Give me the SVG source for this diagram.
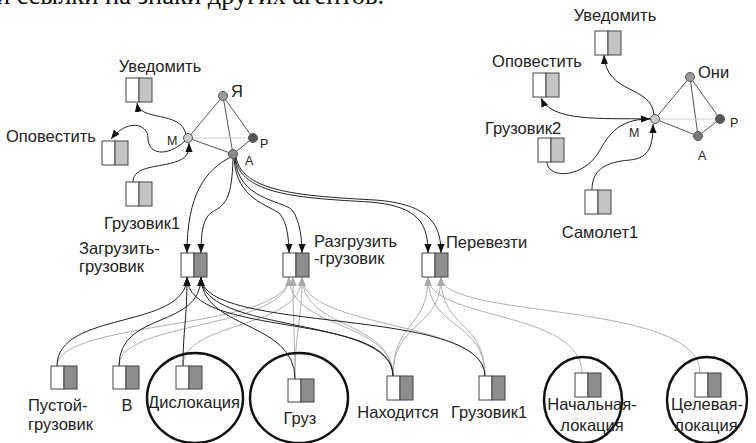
<svg xmlns="http://www.w3.org/2000/svg" width="756" height="443" viewBox="0 0 756 443">
<defs>
<marker id="ab" markerUnits="userSpaceOnUse" markerWidth="9" markerHeight="8" viewBox="0 0 10 8" refX="10" refY="4" orient="auto"><path d="M0,0 L10,4 L0,8 z" fill="#111"/></marker>
<marker id="ag" markerUnits="userSpaceOnUse" markerWidth="9" markerHeight="8" viewBox="0 0 10 8" refX="10" refY="4" orient="auto"><path d="M0,0 L10,4 L0,8 z" fill="#a8a8a8"/></marker>
</defs>
<style>
text{font-family:"Liberation Sans",Arial,sans-serif;fill:#222}
.lbl{font-size:16.5px}
.sm{font-size:12.5px}
.cap{font-family:"Liberation Serif","Times New Roman",serif;font-size:26.5px;fill:#111}
.w{fill:#fff;stroke:#444;stroke-width:1}
.g1{fill:#c4c4c4;stroke:#444;stroke-width:1}
.g2{fill:#8e8e8e;stroke:#444;stroke-width:1}
.e{fill:#555;stroke:#555;stroke-width:1}
.el{stroke:#cfcfcf;stroke-width:1}
.k{fill:none;stroke:#222;stroke-width:1;marker-end:url(#ab)}
.gr{fill:none;stroke:#b0b0b0;stroke-width:1;marker-end:url(#ag)}
.ring{fill:none;stroke:#111;stroke-width:2.5}
.nd{stroke:#555;stroke-width:1}
</style>
<rect width="756" height="443" fill="#fff"/>
<text class="cap" x="-4" y="4">и ссылки на знаки других агентов.</text>

<g id="connectors">
<line class="e" x1="188" y1="138" x2="223" y2="96"/>
<line class="e" x1="223" y1="96" x2="233" y2="154"/>
<line class="e" x1="223" y1="96" x2="253" y2="138"/>
<line class="e" x1="188" y1="138" x2="233" y2="154"/>
<line class="e" x1="233" y1="154" x2="253" y2="138"/>
<line class="el" x1="188" y1="138" x2="253" y2="138"/>
<path class="k" d="M186,134 C180,110 140,122 137,103"/>
<path class="k" d="M185,141 C166,158 148,154 148,138 C148,124 128,118 111,139"/>
<path class="k" d="M133,182 C133,165 160,168 178,161 C188,157 189,152 189,143"/>
<path class="k" d="M231,157 C205,170 187,195 187,253"/>
<path class="k" d="M233,158 C232,200 225,205 212,212 C203,218 201,232 201,253"/>
<path class="k" d="M234,158 C236,200 270,205 280,214 C287,222 289,240 289,253"/>
<path class="k" d="M235,158 C238,200 282,200 292,210 C300,220 302,240 302,253"/>
<path class="k" d="M235,157 C240,195 300,198 370,202 C420,206 428,225 428,253"/>
<path class="k" d="M236,157 C242,193 305,196 375,200 C430,204 441,225 441,253"/>
<line class="e" x1="655" y1="119" x2="690" y2="77"/>
<line class="e" x1="690" y1="77" x2="698" y2="136"/>
<line class="e" x1="690" y1="77" x2="720" y2="119"/>
<line class="e" x1="655" y1="119" x2="698" y2="136"/>
<line class="e" x1="698" y1="136" x2="720" y2="119"/>
<line class="el" x1="655" y1="119" x2="720" y2="119"/>
<path class="k" d="M654,115 C652,85 606,95 604,55"/>
<path class="k" d="M650,119 C600,118 552,122 541,98"/>
<path class="k" d="M547,162 C548,180 585,178 600,150 C612,128 625,119 650,119"/>
<path class="k" d="M592,190 C592,170 605,162 630,160 C650,158 653,145 653,124"/>
<path class="gr" d="M57,366 C57,320 289,330 289,277"/>
<path class="gr" d="M119,366 C119,320 289,330 289,277"/>
<path class="gr" d="M183,366 C183,320 302,330 302,277"/>
<path class="gr" d="M295,379 C295,340 293,320 293,277"/>
<path class="gr" d="M295,379 C295,330 302,320 302,277"/>
<path class="gr" d="M393,376 C393,320 289,330 289,277"/>
<path class="gr" d="M393,376 C393,320 302,330 302,277"/>
<path class="gr" d="M393,376 C393,320 428,330 428,277"/>
<path class="gr" d="M393,376 C393,320 441,330 441,277"/>
<path class="gr" d="M485,376 C485,320 302,330 302,277"/>
<path class="gr" d="M485,376 C485,320 428,330 428,277"/>
<path class="gr" d="M485,376 C485,320 441,330 441,277"/>
<path class="gr" d="M582,373 C582,310 428,320 428,277"/>
<path class="gr" d="M700,373 C700,300 441,320 441,277"/>
<path class="k" d="M57,366 C57,310 187,330 187,277"/>
<path class="k" d="M119,366 C119,310 201,330 201,277"/>
<path class="k" d="M183,366 C183,330 187,320 187,277"/>
<path class="k" d="M295,379 C295,320 201,330 201,277"/>
<path class="k" d="M393,376 C393,310 187,340 187,277"/>
<path class="k" d="M393,376 C393,315 201,335 201,277"/>
<path class="k" d="M485,376 C485,305 201,335 201,277"/>
</g>

<g id="node-ya"><circle class="nd" cx="223" cy="96" r="4.5" fill="#9a9a9a"/><text class="lbl" x="231" y="97">Я</text></g>
<g id="node-m"><circle class="nd" cx="188" cy="138" r="4.5" fill="#cacaca"/><text class="sm" x="167" y="145">M</text></g>
<g id="node-p"><circle class="nd" cx="253" cy="138" r="4.5" fill="#555"/><text class="sm" x="260" y="148">P</text></g>
<g id="node-a"><circle class="nd" cx="233" cy="154" r="4.5" fill="#8a8a8a"/><text class="sm" x="245" y="165">A</text></g>

<g id="left-uvedomit"><rect class="w" x="126" y="78" width="13" height="24"/><rect class="g1" x="139" y="78" width="13" height="24"/><text class="lbl" x="160" y="72" text-anchor="middle">Уведомить</text></g>
<g id="left-opovestit"><rect class="w" x="102" y="141" width="13" height="24"/><rect class="g1" x="115" y="141" width="13" height="24"/><text class="lbl" x="6" y="142">Оповестить</text></g>
<g id="left-gruzovik1"><rect class="w" x="126" y="182" width="13" height="24"/><rect class="g1" x="139" y="182" width="13" height="24"/><text class="lbl" x="142" y="229" text-anchor="middle">Грузовик1</text></g>

<g id="node-oni"><circle class="nd" cx="690" cy="77" r="4.5" fill="#9a9a9a"/><text class="lbl" x="698" y="78">Они</text></g>
<g id="node-m2"><circle class="nd" cx="655" cy="119" r="4.5" fill="#cacaca"/><text class="sm" x="629" y="137">M</text></g>
<g id="node-p2"><circle class="nd" cx="720" cy="119" r="4.5" fill="#555"/><text class="sm" x="730" y="127">P</text></g>
<g id="node-a2"><circle class="nd" cx="698" cy="136" r="4.5" fill="#7a7a7a"/><text class="sm" x="698" y="160">A</text></g>

<g id="right-uvedomit"><rect class="w" x="595" y="31" width="13" height="24"/><rect class="g1" x="608" y="31" width="13" height="24"/><text class="lbl" x="615" y="21" text-anchor="middle">Уведомить</text></g>
<g id="right-opovestit"><rect class="w" x="533" y="73" width="13" height="24"/><rect class="g1" x="546" y="73" width="13" height="24"/><text class="lbl" x="537" y="67" text-anchor="middle">Оповестить</text></g>
<g id="right-gruzovik2"><rect class="w" x="538" y="138" width="13" height="24"/><rect class="g1" x="551" y="138" width="13" height="24"/><text class="lbl" x="523" y="134" text-anchor="middle">Грузовик2</text></g>
<g id="right-samolet1"><rect class="w" x="585" y="190" width="13" height="24"/><rect class="g1" x="598" y="190" width="13" height="24"/><text class="lbl" x="600" y="238" text-anchor="middle">Самолет1</text></g>

<g id="act-zagruzit"><rect class="w" x="181" y="253" width="13" height="24"/><rect class="g2" x="194" y="253" width="13" height="24"/><text class="lbl" x="79" y="254">Загрузить-</text><text class="lbl" x="79" y="272">грузовик</text></g>
<g id="act-razgruzit"><rect class="w" x="283" y="253" width="13" height="24"/><rect class="g2" x="296" y="253" width="13" height="24"/><text class="lbl" x="314" y="247">Разгрузить</text><text class="lbl" x="314" y="264">-грузовик</text></g>
<g id="act-perevezti"><rect class="w" x="422" y="253" width="13" height="24"/><rect class="g2" x="435" y="253" width="13" height="24"/><text class="lbl" x="446" y="248">Перевезти</text></g>

<g id="f-pustoy"><rect class="w" x="51" y="366" width="13" height="23"/><rect class="g2" x="64" y="366" width="13" height="23"/><text class="lbl" x="28" y="411">Пустой-</text><text class="lbl" x="28" y="430">грузовик</text></g>
<g id="f-v"><rect class="w" x="113" y="366" width="13" height="23"/><rect class="g2" x="126" y="366" width="13" height="23"/><text class="lbl" x="127" y="411" text-anchor="middle">В</text></g>
<g id="f-dislokatsiya"><ellipse class="ring" cx="195" cy="398" rx="48" ry="45"/><rect class="w" x="176" y="366" width="13" height="23"/><rect class="g2" x="189" y="366" width="13" height="23"/><text class="lbl" x="194" y="408" text-anchor="middle">Дислокация</text></g>
<g id="f-gruz"><ellipse class="ring" cx="299" cy="398" rx="49" ry="45"/><rect class="w" x="288" y="379" width="13" height="23"/><rect class="g2" x="301" y="379" width="13" height="23"/><text class="lbl" x="300" y="424" text-anchor="middle">Груз</text></g>
<g id="f-nakhoditsya"><rect class="w" x="387" y="376" width="13" height="24"/><rect class="g2" x="400" y="376" width="13" height="24"/><text class="lbl" x="398" y="418" text-anchor="middle">Находится</text></g>
<g id="f-gruzovik1"><rect class="w" x="479" y="376" width="13" height="24"/><rect class="g2" x="492" y="376" width="13" height="24"/><text class="lbl" x="489" y="418" text-anchor="middle">Грузовик1</text></g>
<g id="f-nachalnaya"><ellipse class="ring" cx="583" cy="400" rx="39" ry="43"/><rect class="w" x="575" y="373" width="13" height="24"/><rect class="g2" x="588" y="373" width="13" height="24"/><text class="lbl" x="592" y="410" text-anchor="middle">Начальная-</text><text class="lbl" x="592" y="431" text-anchor="middle">локация</text></g>
<g id="f-tselevaya"><ellipse class="ring" cx="707" cy="400" rx="40" ry="43"/><rect class="w" x="695" y="373" width="13" height="24"/><rect class="g2" x="708" y="373" width="13" height="24"/><text class="lbl" x="707" y="410" text-anchor="middle">Целевая-</text><text class="lbl" x="706" y="431" text-anchor="middle">локация</text></g>
</svg>
